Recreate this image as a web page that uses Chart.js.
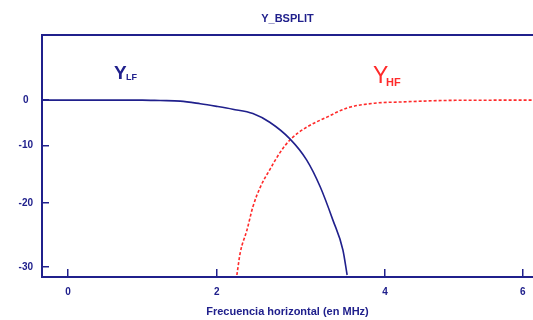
<!DOCTYPE html>
<html>
<head>
<meta charset="utf-8">
<script src="https://cdn.jsdelivr.net/npm/chart.js@4"></script>
<style>
  html, body { margin: 0; padding: 0; background: #fff; }
  #wrap { width: 533px; height: 320px; }
</style>
</head>
<body>
<div id="wrap"><canvas id="chart"></canvas></div>
<script>
// frecuencia (MHz) y ganancia (dB)
const lfFreq = [-0.35, 1.0, 1.24, 1.51, 1.78, 2.0, 2.19, 2.43, 2.63, 2.87, 3.07, 3.23, 3.38, 3.50, 3.55];
const lfGain = [0, 0, -0.2, -0.4, -1.2, -1.9, -2.6, -3.6, -5.5, -8.8, -12.7, -17.3, -22.7, -27.4, -31.2];

const hfFreq = [2.24, 2.28, 2.36, 2.43, 2.52, 2.63, 2.75, 2.87, 3.07, 3.31, 3.55, 3.9, 4.22, 4.82, 5.5, 6.15];
const hfGain = [-31.2, -27.8, -24.3, -20.6, -17.3, -14.4, -11.4, -9.0, -6.5, -4.4, -2.3, -1.0, -0.7, -0.2, -0.05, 0];

const xTicks = [0, 2, 4, 6];
const yTicks = [0, -10, -20, -30];

const navy = '#20208c';
const red = '#ff2a2a';
const font = '"Liberation Sans", Arial, sans-serif';

// the original axes are not evenly spaced, so positions go through these
const xAnchor = [0, 2, 4, 6];
const xPos = [0, 1.962, 4.183, 6];
function warpX(x) {
  let i = 0;
  if (x > xAnchor[2]) i = 2;
  else if (x > xAnchor[1]) i = 1;
  const k = (xPos[i + 1] - xPos[i]) / (xAnchor[i + 1] - xAnchor[i]);
  return xPos[i] + (x - xAnchor[i]) * k;
}
function warpY(v) {
  return v >= 0 ? Math.pow(v, 1.19) : -Math.pow(-v, 1.19);
}

function toPoints(xs, ys) {
  return xs.map(function(x, i) { return { x: warpX(x), y: warpY(ys[i]) }; });
}

const labelsPlugin = {
  id: 'labelsPlugin',
  afterDraw: function(chart) {
    const ctx = chart.ctx;
    const area = chart.chartArea;
    ctx.save();
    ctx.strokeStyle = navy;
    ctx.lineWidth = 2;
    ctx.beginPath();
    ctx.moveTo(area.left - 1, area.top);
    ctx.lineTo(area.right, area.top);
    ctx.stroke();

    ctx.fillStyle = navy;
    ctx.textAlign = 'center';
    ctx.textBaseline = 'alphabetic';
    ctx.font = 'bold 11px ' + font;
    ctx.fillText('Y_BSPLIT', (area.left + area.right) / 2, 22);

    ctx.textAlign = 'left';
    ctx.font = 'bold 19px ' + font;
    ctx.fillText('Y', 114, 79);
    ctx.font = 'bold 9px ' + font;
    ctx.fillText('LF', 126, 80);

    ctx.fillStyle = red;
    ctx.font = '23px ' + font;
    ctx.fillText('Y', 373, 83);
    ctx.font = 'bold 11px ' + font;
    ctx.fillText('HF', 386, 86);
    ctx.restore();
  }
};

const chart = new Chart(document.getElementById('chart'), {
  type: 'line',
  data: {
    datasets: [
      {
        label: 'Y_LF',
        data: toPoints(lfFreq, lfGain),
        borderColor: navy,
        borderWidth: 1.6,
        pointRadius: 0,
        cubicInterpolationMode: 'monotone',
      },
      {
        label: 'Y_HF',
        data: toPoints(hfFreq, hfGain),
        borderColor: red,
        borderWidth: 1.6,
        borderDash: [3, 2],
        pointRadius: 0,
        cubicInterpolationMode: 'monotone',
      },
    ],
  },
  options: {
    responsive: true,
    maintainAspectRatio: false,
    animation: false,
    layout: { padding: { top: 35, left: 0, right: 0, bottom: 0 } },
    plugins: { legend: { display: false }, tooltip: { enabled: false }, title: { display: false } },
    scales: {
      x: {
        type: 'linear',
        min: warpX(-0.35),
        max: warpX(6.15),
        afterBuildTicks: function(scale) {
          scale.ticks = xTicks.map(function(v) { return { value: warpX(v) }; });
        },
        afterFit: function(scale) {
          scale.height = 43;
          scale.paddingLeft = 0;
          scale.paddingRight = 0;
        },
        ticks: {
          color: navy,
          font: { family: font, size: 10, weight: 'bold' },
          padding: 17,
          maxRotation: 0,
          callback: function(value, index) { return String(xTicks[index]); },
        },
        grid: { drawOnChartArea: false, color: navy, lineWidth: 1.5, tickLength: -8 },
        border: { color: navy, width: 2 },
        title: {
          display: true,
          text: 'Frecuencia horizontal (en MHz)',
          color: navy,
          font: { family: font, size: 11, weight: 'bold' },
          padding: { top: 0, bottom: 1 },
        },
      },
      y: {
        type: 'linear',
        min: warpY(-31.5),
        max: warpY(13.6),
        afterBuildTicks: function(scale) {
          scale.ticks = yTicks.map(function(v) { return { value: warpY(v) }; });
        },
        afterFit: function(scale) {
          scale.width = 42;
          scale.paddingTop = 0;
          scale.paddingBottom = 0;
        },
        ticks: {
          color: navy,
          font: { family: font, size: 10, weight: 'bold' },
          padding: 16,
          crossAlign: 'center',
          callback: function(value, index) { return String(yTicks[index]); },
        },
        grid: { drawOnChartArea: false, color: navy, lineWidth: 1.5, tickLength: -7 },
        border: { color: navy, width: 2 },
      },
    },
  },
  plugins: [labelsPlugin],
});
</script>
</body>
</html>
